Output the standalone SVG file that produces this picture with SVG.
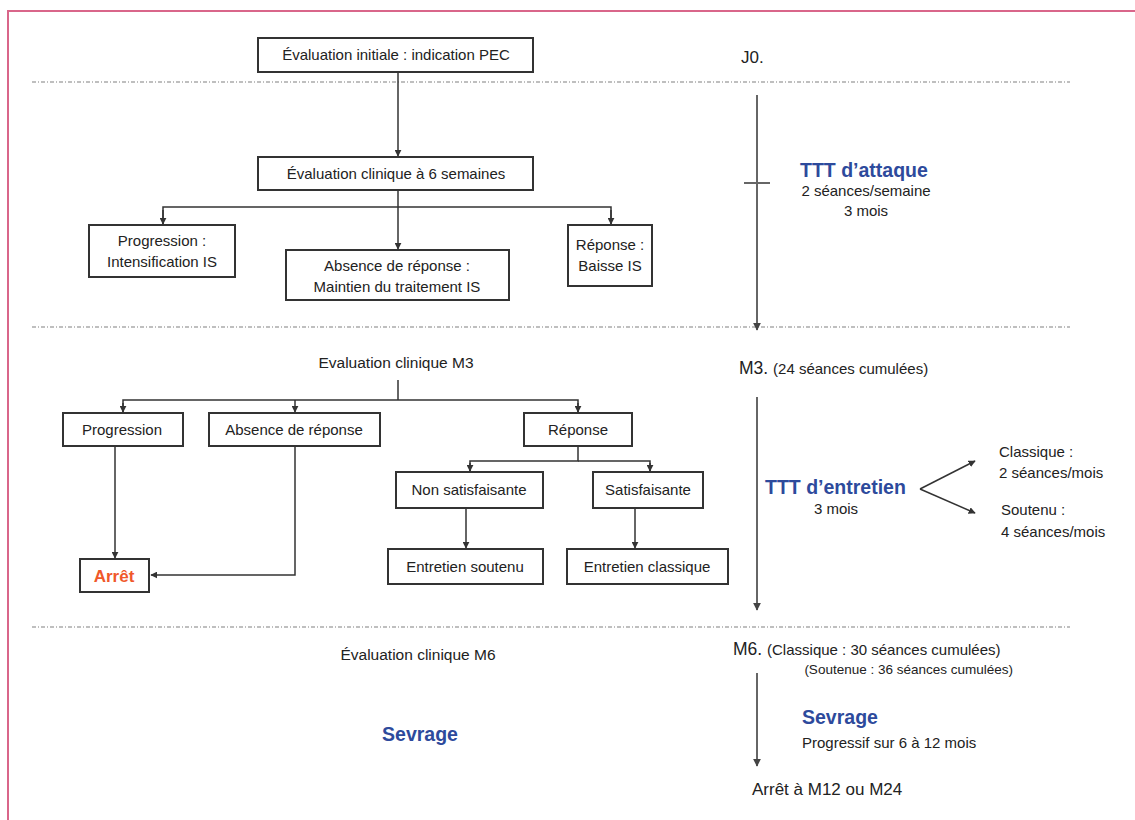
<svg xmlns="http://www.w3.org/2000/svg" width="1135" height="820" viewBox="0 0 1135 820">
<style>
text{font-family:"Liberation Sans",Arial,sans-serif;fill:#222;}
.t{font-size:15px;}
.s{font-size:15px;}
.b{font-weight:bold;fill:#2d4a9c;font-size:19.5px;}
.box{fill:#fff;stroke:#333;stroke-width:2;}
.c{fill:none;stroke:#333;stroke-width:1.5;}
.tl{fill:none;stroke:#666;stroke-width:2;}
.dash{stroke:#aaa;stroke-width:1.5;stroke-dasharray:4 2 1 2;}
</style>
<defs>
<marker id="a" viewBox="0 0 10 10" refX="9" refY="5" markerWidth="7" markerHeight="7" orient="auto" markerUnits="userSpaceOnUse"><path d="M0,0 L10,5 L0,10 z" fill="#333"/></marker>
<marker id="g" viewBox="0 0 10 10" refX="9" refY="5" markerWidth="8" markerHeight="8" orient="auto" markerUnits="userSpaceOnUse"><path d="M0,0 L10,5 L0,10 z" fill="#444"/></marker>
</defs>
<rect x="8" y="11" width="1140" height="830" fill="none" stroke="#d9668a" stroke-width="2"/>
<g id="separators">
<line class="dash" x1="32" y1="82" x2="1070" y2="82"/>
<line class="dash" x1="32" y1="327" x2="1070" y2="327"/>
<line class="dash" x1="32" y1="627" x2="1070" y2="627"/>
</g>
<g id="connectors">
<line class="c" x1="398" y1="72" x2="398" y2="156" marker-end="url(#a)"/>
<line class="c" x1="398" y1="190" x2="398" y2="249" marker-end="url(#a)"/>
<polyline class="c" points="163,224 163,207 611,207 611,224" />
<line class="c" x1="163" y1="210" x2="163" y2="224" marker-end="url(#a)"/>
<line class="c" x1="611" y1="210" x2="611" y2="224" marker-end="url(#a)"/>
<line class="c" x1="398" y1="380" x2="398" y2="400"/>
<polyline class="c" points="123,412 123,400 578,400 578,412"/>
<line class="c" x1="123" y1="403" x2="123" y2="412" marker-end="url(#a)"/>
<line class="c" x1="295" y1="400" x2="295" y2="412" marker-end="url(#a)"/>
<line class="c" x1="578" y1="403" x2="578" y2="412" marker-end="url(#a)"/>
<polyline class="c" points="578,446 578,461 470,461 470,471"/>
<polyline class="c" points="578,461 650,461 650,471"/>
<line class="c" x1="470" y1="463" x2="470" y2="471" marker-end="url(#a)"/>
<line class="c" x1="650" y1="463" x2="650" y2="471" marker-end="url(#a)"/>
<line class="c" x1="466" y1="508" x2="466" y2="548" marker-end="url(#a)"/>
<line class="c" x1="635" y1="508" x2="635" y2="548" marker-end="url(#a)"/>
<line class="c" x1="115" y1="446" x2="115" y2="558" marker-end="url(#a)"/>
<polyline class="c" points="295,446 295,575 151,575" marker-end="url(#a)"/>
<line class="tl" x1="757" y1="95" x2="757" y2="330" marker-end="url(#g)"/>
<line class="tl" x1="744" y1="183" x2="770" y2="183"/>
<line class="tl" x1="757" y1="397" x2="757" y2="610" marker-end="url(#g)"/>
<line class="tl" x1="757" y1="673" x2="757" y2="766" marker-end="url(#g)"/>
<line class="c" x1="920" y1="489" x2="975" y2="461" marker-end="url(#a)"/>
<line class="c" x1="920" y1="489" x2="975" y2="513" marker-end="url(#a)"/>
</g>
<g id="n_init"><rect class="box" x="258" y="38" width="275" height="34"/><text class="t" x="396" y="60" text-anchor="middle">Évaluation initiale : indication PEC</text></g>
<g id="n_eval6"><rect class="box" x="258" y="157" width="275" height="33"/><text class="t" x="396" y="179" text-anchor="middle">Évaluation clinique à 6 semaines</text></g>
<g id="n_prog1"><rect class="box" x="89" y="225" width="146" height="52"/><text class="t" x="162" y="246" text-anchor="middle">Progression :</text><text class="t" x="162" y="267" text-anchor="middle">Intensification IS</text></g>
<g id="n_abs1"><rect class="box" x="286" y="250" width="223" height="50"/><text class="t" x="397" y="271" text-anchor="middle">Absence de réponse :</text><text class="t" x="397" y="292" text-anchor="middle">Maintien du traitement IS</text></g>
<g id="n_rep1"><rect class="box" x="568" y="225" width="84" height="61"/><text class="t" x="610" y="250" text-anchor="middle">Réponse :</text><text class="t" x="610" y="271" text-anchor="middle">Baisse IS</text></g>
<g id="n_eval3"><text class="t" x="396" y="368" text-anchor="middle" style="font-size:15.5px">Evaluation clinique M3</text></g>
<g id="n_prog2"><rect class="box" x="63" y="413" width="120" height="33"/><text class="t" x="122" y="435" text-anchor="middle">Progression</text></g>
<g id="n_abs2"><rect class="box" x="209" y="413" width="171" height="33"/><text class="t" x="294" y="435" text-anchor="middle">Absence de réponse</text></g>
<g id="n_rep2"><rect class="box" x="524" y="413" width="108" height="33"/><text class="t" x="578" y="435" text-anchor="middle">Réponse</text></g>
<g id="n_nonsat"><rect class="box" x="396" y="472" width="147" height="36"/><text class="t" x="469" y="495" text-anchor="middle">Non satisfaisante</text></g>
<g id="n_sat"><rect class="box" x="593" y="472" width="110" height="36"/><text class="t" x="648" y="495" text-anchor="middle">Satisfaisante</text></g>
<g id="n_soutenu"><rect class="box" x="388" y="549" width="155" height="35"/><text class="t" x="465" y="572" text-anchor="middle">Entretien soutenu</text></g>
<g id="n_classique"><rect class="box" x="567" y="549" width="161" height="35"/><text class="t" x="647" y="572" text-anchor="middle">Entretien classique</text></g>
<g id="n_arret"><rect class="box" x="80" y="559" width="69" height="33"/><text x="114" y="582" text-anchor="middle" style="font-size:17px;font-weight:bold;fill:#f0582a">Arrêt</text></g>
<g id="n_eval6m"><text class="t" x="418" y="660" text-anchor="middle" style="font-size:15.5px">Évaluation clinique M6</text></g>
<g id="n_sevrage_l"><text class="b" x="420" y="741" text-anchor="middle">Sevrage</text></g>
<g id="timeline">
<text x="741" y="63" style="font-size:17px">J0.</text>
<text class="b" x="800" y="177">TTT d’attaque</text>
<text class="s" x="866" y="196" text-anchor="middle">2 séances/semaine</text>
<text class="s" x="866" y="216" text-anchor="middle">3 mois</text>
<text x="739" y="374" style="font-size:17.5px">M3. <tspan style="font-size:15px">(24 séances cumulées)</tspan></text>
<text class="b" x="765" y="494">TTT d’entretien</text>
<text class="s" x="836" y="514" text-anchor="middle">3 mois</text>
<text class="s" x="999" y="457">Classique :</text>
<text class="s" x="999" y="478">2 séances/mois</text>
<text class="s" x="1001" y="515">Soutenu :</text>
<text class="s" x="1001" y="537">4 séances/mois</text>
<text x="733" y="655" style="font-size:17.5px">M6. <tspan style="font-size:15px">(Classique : 30 séances cumulées)</tspan></text>
<text x="1013" y="674" text-anchor="end" style="font-size:13.5px">(Soutenue : 36 séances cumulées)</text>
<text class="b" x="802" y="724">Sevrage</text>
<text class="s" x="802" y="748">Progressif sur 6 à 12 mois</text>
<text x="752" y="795" style="font-size:17px">Arrêt à M12 ou M24</text>
</g>
</svg>
